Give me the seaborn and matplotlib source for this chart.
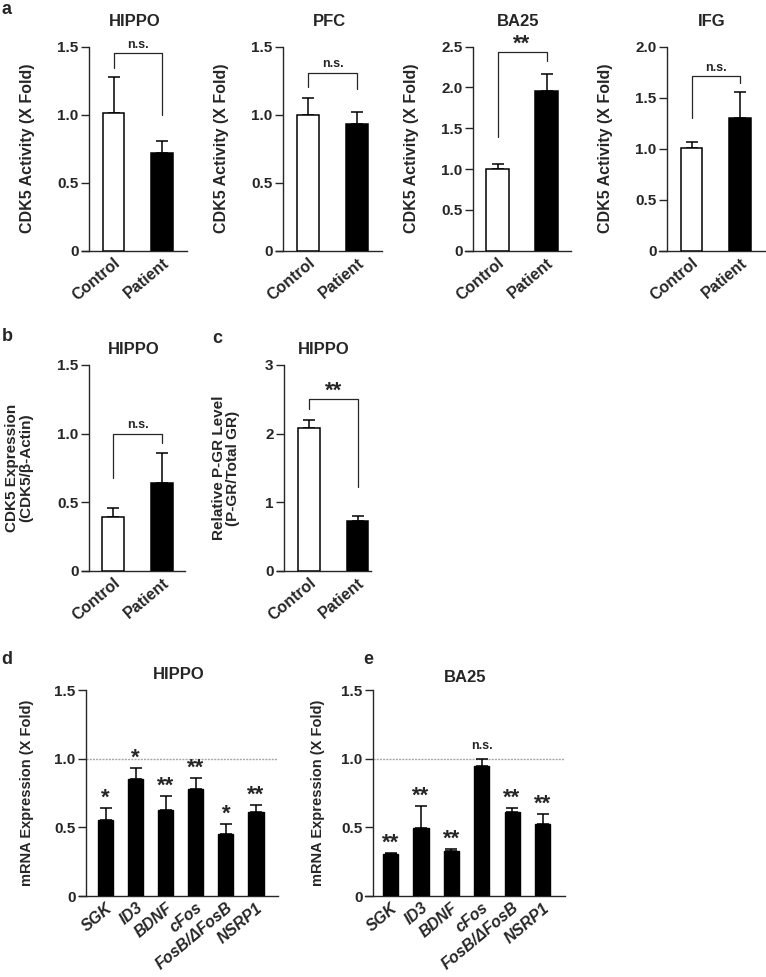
import matplotlib
matplotlib.use("Agg")
import matplotlib.pyplot as plt
import seaborn as sns
import pandas as pd
import numpy as np

# ---------------- data ----------------
groups = ["Control", "Patient"]

hippo_act_mean = [1.01, 0.72]
hippo_act_err = [0.27, 0.09]
pfc_act_mean = [1.00, 0.93]
pfc_act_err = [0.12, 0.09]
ba25_act_mean = [1.00, 1.96]
ba25_act_err = [0.06, 0.21]
ifg_act_mean = [1.01, 1.30]
ifg_act_err = [0.06, 0.26]

cdk5_expr_mean = [0.39, 0.64]
cdk5_expr_err = [0.07, 0.22]
pgr_mean = [2.08, 0.73]
pgr_err = [0.12, 0.07]

genes = ["SGK", "ID3", "BDNF", "cFos", "FosB/\u0394FosB", "NSRP1"]
hippo_mrna_mean = [0.557, 0.855, 0.625, 0.78, 0.455, 0.61]
hippo_mrna_err = [0.083, 0.08, 0.105, 0.08, 0.07, 0.055]
hippo_mrna_sig = ["*", "*", "**", "**", "*", "**"]
ba25_mrna_mean = [0.303, 0.493, 0.328, 0.947, 0.609, 0.524]
ba25_mrna_err = [0.013, 0.165, 0.014, 0.048, 0.034, 0.071]
ba25_mrna_sig = ["**", "**", "**", "n.s.", "**", "**"]

# ---------------- style ----------------
sns.set_theme(style="ticks")
plt.rcParams["font.family"] = ["Liberation Sans", "DejaVu Sans"]
plt.rcParams["font.weight"] = "bold"
plt.rcParams["axes.labelweight"] = "bold"
plt.rcParams["axes.titleweight"] = "bold"

W, H = 766, 977
fig = plt.figure(figsize=(W / 100, H / 100), dpi=100)

SPINE = "#262626"


def make_ax(x0, yx, x1, top, bottom, c0, s):
    ax = fig.add_axes([x0 / W, 1 - bottom / H, (x1 - x0) / W, (bottom - top) / H])
    ax._lay = (x0, yx, x1, c0, s)
    return ax


def finish(ax, ymax, yticks, yticklabels, ylabel, title, title_pad,
           label_x, n, xlabels, italic=False, ylabel_size=11.5):
    x0, yx, x1, c0, s = ax._lay
    ax.set_xlim((x0 - c0) / s, (x1 - c0) / s)
    ax.set_ylim(0, ymax)
    sns.despine(ax=ax)
    ax.spines["left"].set_position(("axes", (yx - x0) / (x1 - x0)))
    for sp in ("left", "bottom"):
        ax.spines[sp].set_linewidth(1.0)
        ax.spines[sp].set_color(SPINE)
    ax.set_yticks(yticks)
    ax.set_yticklabels(yticklabels)
    ax.tick_params(axis="y", length=5.5, width=1.0, color=SPINE, labelsize=11,
                   pad=2)
    ax.tick_params(axis="x", length=0, labelsize=11.5, pad=3)
    ax.set_xticks(range(n))
    ax.set_xticklabels(xlabels, rotation=40, ha="right", rotation_mode="anchor",
                       fontstyle="italic" if italic else "normal")
    ax.set_xlabel("")
    ax.set_ylabel(ylabel, fontsize=ylabel_size, fontweight="bold",
                  linespacing=1.0)
    ax.yaxis.set_label_coords((label_x - x0) / (x1 - x0), 0.5)
    ax.set_title(title, fontsize=12, fontweight="bold", pad=title_pad)
    ax.set_facecolor("white")


def two_bar(ax, means, errs):
    df = pd.DataFrame({"group": groups, "value": means})
    sns.barplot(data=df, x="group", y="value", hue="group",
                palette={"Control": "white", "Patient": "black"},
                edgecolor="black", linewidth=1.1, width=0.45,
                errorbar=None, legend=False, ax=ax, zorder=3)
    ax.errorbar(np.arange(len(means)), means,
                yerr=[np.zeros(len(means)), errs], fmt="none",
                ecolor="black", elinewidth=1.1, capsize=4.5, capthick=1.1,
                zorder=2)


def bracket(ax, lb, top, rb, text):
    ax.plot([0, 0, 1, 1], [lb, top, top, rb], color=SPINE, lw=0.9,
            clip_on=False, zorder=4)
    if text == "n.s.":
        ax.annotate(text, (0.5, top), xytext=(0, 2), textcoords="offset points",
                    ha="center", va="bottom", fontsize=9, fontweight="bold",
                    annotation_clip=False)
    else:
        ax.annotate(text, (0.5, top), xytext=(0, 1.5), textcoords="offset points",
                    ha="center", va="baseline", fontsize=16, fontweight="bold",
                    annotation_clip=False)


# ---------------- panel a ----------------
a_specs = [
    ("HIPPO", hippo_act_mean, hippo_act_err, (82, 89, 187, 113.5, 48.5),
     1.5, [0, 0.5, 1.0, 1.5], ["0", "0.5", "1.0", "1.5"], (1.34, 1.45, 1.0, "n.s.")),
    ("PFC", pfc_act_mean, pfc_act_err, (276, 283, 382, 308, 49),
     1.5, [0, 0.5, 1.0, 1.5], ["0", "0.5", "1.0", "1.5"], (1.20, 1.31, 1.19, "n.s.")),
    ("BA25", ba25_act_mean, ba25_act_err, (465, 473, 571, 497.5, 49),
     2.5, [0, 0.5, 1.0, 1.5, 2.0, 2.5], ["0", "0.5", "1.0", "1.5", "2.0", "2.5"],
     (1.39, 2.44, 2.32, "**")),
    ("IFG", ifg_act_mean, ifg_act_err, (659, 667, 765, 691.5, 48.5),
     2.0, [0, 0.5, 1.0, 1.5, 2.0], ["0", "0.5", "1.0", "1.5", "2.0"],
     (1.30, 1.71, 1.64, "n.s.")),
]
for title, m, e, (x0, yx, x1, c0, s), ymax, yt, ytl, br in a_specs:
    ax = make_ax(x0, yx, x1, 46.7, 250.7, c0, s)
    two_bar(ax, m, e)
    finish(ax, ymax, yt, ytl, "CDK5 Activity (X Fold)", title, 15,
           yx - 54, 2, groups)
    bracket(ax, *br)

# ---------------- panel b ----------------
ax = make_ax(82, 89, 185, 365, 571, 113, 49)
two_bar(ax, cdk5_expr_mean, cdk5_expr_err)
finish(ax, 1.5, [0, 0.5, 1.0, 1.5], ["0", "0.5", "1.0", "1.5"],
       "CDK5 Expression\n(CDK5/\u03b2-Actin)", "HIPPO", 8, 33, 2, groups,
       ylabel_size=11)
bracket(ax, 0.68, 1.0, 0.93, "n.s.")

# ---------------- panel c ----------------
ax = make_ax(277, 284, 371, 365, 571, 309, 48.5)
two_bar(ax, pgr_mean, pgr_err)
finish(ax, 3, [0, 1, 2, 3], ["0", "1", "2", "3"],
       "Relative P-GR Level\n(P-GR/Total GR)", "HIPPO", 8, 240, 2, groups,
       ylabel_size=11)
bracket(ax, 2.36, 2.51, 1.23, "**")


# ---------------- panels d, e ----------------
def mrna_panel(lay, means, errs, sigs, title, title_pad, label_x):
    x0, yx, x1, c0, s = lay
    ax = make_ax(x0, yx, x1, 690, 896, c0, s)
    df = pd.DataFrame({"gene": genes, "value": means})
    sns.barplot(data=df, x="gene", y="value", color="black",
                edgecolor="black", linewidth=1.0, width=0.5,
                errorbar=None, ax=ax, zorder=3)
    n = len(means)
    ax.errorbar(np.arange(n), means, yerr=[np.zeros(n), errs], fmt="none",
                ecolor="black", elinewidth=1.1, capsize=4.2, capthick=1.1,
                zorder=2)
    ax.hlines(1.0, (yx - c0) / s, (x1 - 1 - c0) / s, color="#a8a8a8",
              lw=1.0, linestyles=(0, (1.5, 0.8)), zorder=1)
    for i, (mv, ev, sg) in enumerate(zip(means, errs, sigs)):
        if sg == "n.s.":
            ax.annotate(sg, (i, mv + ev), xytext=(0, 5), textcoords="offset points",
                        ha="center", va="bottom", fontsize=9, fontweight="bold")
        else:
            ax.annotate(sg, (i, mv + ev), xytext=(0, 3), textcoords="offset points",
                        ha="center", va="baseline", fontsize=16, fontweight="bold")
    finish(ax, 1.5, [0, 0.5, 1.0, 1.5], ["0", "0.5", "1.0", "1.5"],
           "mRNA Expression (X Fold)", title, title_pad, label_x, n, genes,
           italic=True, ylabel_size=10.5)
    return ax


mrna_panel((79, 86, 278, 105.5, 30.1), hippo_mrna_mean, hippo_mrna_err,
           hippo_mrna_sig, "HIPPO", 8, 34)
mrna_panel((365, 373, 565, 390.5, 30.4), ba25_mrna_mean, ba25_mrna_err,
           ba25_mrna_sig, "BA25", 6, 325)

# ---------------- panel letters ----------------
for lab, px, py in [("a", 7, 9), ("b", 7, 336), ("c", 217.5, 338),
                    ("d", 7, 659.5), ("e", 368, 659)]:
    fig.text(px / W, 1 - py / H, lab, fontsize=13, fontweight="bold",
             ha="center", va="center")

fig.savefig("out.png", dpi=100, facecolor="white")
